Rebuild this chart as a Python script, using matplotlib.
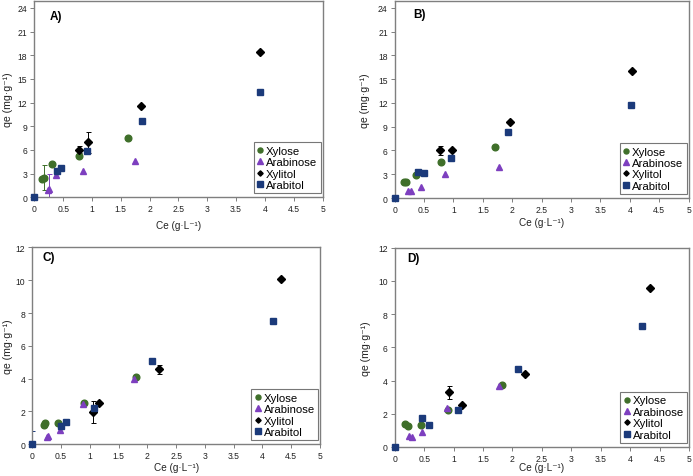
import matplotlib
matplotlib.use("Agg")
import matplotlib.pyplot as plt
import numpy as np

plt.rcParams["font.family"] = ["Liberation Sans", "DejaVu Sans"]

# ---- data (Ce in g/L, qe in mg/g) ----
A_xylose_x = [0.13, 0.17, 0.30, 0.77, 1.63]
A_xylose_y = [2.32, 2.50, 4.27, 5.20, 7.50]
A_xylose_err = [0, 1.6, 0, 0, 0]
A_arabinose_x = [0.23, 0.26, 0.38, 0.84, 1.74]
A_arabinose_y = [0.97, 1.06, 2.83, 3.30, 4.60]
A_arabinose_err = [0, 1.9, 0, 0, 0]
A_xylitol_x = [0.78, 0.94, 1.85, 3.92]
A_xylitol_y = [6.00, 6.97, 11.58, 18.38]
A_xylitol_err = [0.45, 1.3, 0, 0]
A_arabitol_x = [0, 0.40, 0.47, 0.91, 1.86, 3.92]
A_arabitol_y = [0, 3.30, 3.76, 5.83, 9.67, 13.40]
A_arabitol_err = [0, 0, 0, 0, 0, 0]

B_xylose_x = [0.15, 0.19, 0.37, 0.79, 1.70]
B_xylose_y = [2.02, 2.06, 2.90, 4.55, 6.48]
B_xylose_err = [0, 0, 0, 0, 0]
B_arabinose_x = [0.23, 0.27, 0.45, 0.86, 1.78]
B_arabinose_y = [0.84, 0.93, 1.43, 2.99, 3.96]
B_arabinose_err = [0, 0, 0, 0, 0]
B_xylitol_x = [0.77, 0.98, 1.96, 4.04]
B_xylitol_y = [6.02, 6.02, 9.60, 16.04]
B_xylitol_err = [0.55, 0, 0, 0]
B_arabitol_x = [0, 0.39, 0.50, 0.95, 1.93, 4.02]
B_arabitol_y = [0, 3.24, 3.20, 5.00, 8.30, 11.70]
B_arabitol_err = [0, 0, 0, 0, 0, 0]

C_xylose_x = [0.20, 0.22, 0.44, 0.89, 1.80]
C_xylose_y = [1.16, 1.32, 1.32, 2.50, 4.10]
C_xylose_err = [0, 0, 0, 0, 0]
C_arabinose_x = [0.25, 0.28, 0.48, 0.88, 1.77]
C_arabinose_y = [0.45, 0.53, 0.87, 2.48, 3.99]
C_arabinose_err = [0, 0, 0, 0, 0]
C_xylitol_x = [1.06, 1.16, 2.20, 4.32]
C_xylitol_y = [1.97, 2.52, 4.56, 10.09]
C_xylitol_err = [0.65, 0, 0.25, 0]
C_arabitol_x = [0, 0.50, 0.58, 1.08, 2.08, 4.19]
C_arabitol_y = [0, 1.12, 1.36, 2.24, 5.10, 7.50]
C_arabitol_err = [0.8, 0, 0, 0, 0, 0]

D_xylose_x = [0.18, 0.23, 0.45, 0.91, 1.82]
D_xylose_y = [1.36, 1.28, 1.30, 2.23, 3.75]
D_xylose_err = [0, 0, 0, 0, 0]
D_arabinose_x = [0.25, 0.29, 0.47, 0.88, 1.77]
D_arabinose_y = [0.66, 0.60, 0.88, 2.33, 3.69]
D_arabinose_err = [0, 0, 0, 0, 0]
D_xylitol_x = [0.92, 1.15, 2.21, 4.34]
D_xylitol_y = [3.29, 2.55, 4.37, 9.59]
D_xylitol_err = [0.4, 0, 0, 0]
D_arabitol_x = [0, 0.46, 0.58, 1.08, 2.10, 4.21]
D_arabitol_y = [0, 1.77, 1.34, 2.23, 4.68, 7.26]
D_arabitol_err = [0, 0, 0, 0, 0, 0]

series_names = ["Xylose", "Arabinose", "Xylitol", "Arabitol"]
colors = ["#3f6f2a", "#7d3fbf", "#000000", "#1b3a7a"]
markers = ["o", "^", "D", "s"]
msizes = [4.8, 5.0, 3.6, 5.0]

panels = [
    ("A)", [(A_xylose_x, A_xylose_y, A_xylose_err),
            (A_arabinose_x, A_arabinose_y, A_arabinose_err),
            (A_xylitol_x, A_xylitol_y, A_xylitol_err),
            (A_arabitol_x, A_arabitol_y, A_arabitol_err)]),
    ("B)", [(B_xylose_x, B_xylose_y, B_xylose_err),
            (B_arabinose_x, B_arabinose_y, B_arabinose_err),
            (B_xylitol_x, B_xylitol_y, B_xylitol_err),
            (B_arabitol_x, B_arabitol_y, B_arabitol_err)]),
    ("C)", [(C_xylose_x, C_xylose_y, C_xylose_err),
            (C_arabinose_x, C_arabinose_y, C_arabinose_err),
            (C_xylitol_x, C_xylitol_y, C_xylitol_err),
            (C_arabitol_x, C_arabitol_y, C_arabitol_err)]),
    ("D)", [(D_xylose_x, D_xylose_y, D_xylose_err),
            (D_arabinose_x, D_arabinose_y, D_arabinose_err),
            (D_xylitol_x, D_xylitol_y, D_xylitol_err),
            (D_arabitol_x, D_arabitol_y, D_arabitol_err)]),
]

rects = [
    (0.0495, 0.5843, 0.4159, 0.4121),
    (0.5696, 0.5828, 0.4240, 0.4136),
    (0.0466, 0.0665, 0.4152, 0.4126),
    (0.5696, 0.0608, 0.4246, 0.4178),
]
ylims = [24.9, 24.9, 12, 12]
ysteps = [3, 3, 2, 2]
label_pos = [(0.055, 0.92), (0.063, 0.933), (0.037, 0.95), (0.041, 0.95)]
# label anchors: right edge of the y label, top edge of the x label
ylab_x = [-0.074, -0.084, -0.067, -0.080]
xlab_y = [-0.115, -0.096, -0.090, -0.075]

fig = plt.figure(figsize=(6.93, 4.77), dpi=100)
frame_col = "#7f7f7f"
xt = np.arange(0, 5.01, 0.5)
xt_labels = ["0", "0.5", "1", "1.5", "2", "2.5", "3", "3.5", "4", "4.5", "5"]

for i, ((tag, data), rect) in enumerate(zip(panels, rects)):
    ax = fig.add_axes(rect)
    for (x, y, e), name, c, m, ms in zip(data, series_names, colors, markers, msizes):
        x = np.asarray(x, float)
        y = np.asarray(y, float)
        e = np.asarray(e, float)
        has = e > 0
        if has.any():
            ax.errorbar(x[has], y[has], yerr=e[has], fmt="none", ecolor=c,
                        elinewidth=0.7, capsize=1.8, capthick=0.7, zorder=2)
        ax.plot(x, y, ls="none", marker=m, ms=ms, color=c, mec=c,
                label=name, zorder=3, clip_on=False)
    ax.set_xlim(0, 5)
    ax.set_ylim(0, ylims[i])
    ax.set_xticks(xt)
    ax.set_xticklabels(xt_labels)
    ax.set_yticks(np.arange(0, int(ylims[i]) + 1, ysteps[i]))
    ax.tick_params(direction="out", length=3, width=0.7, color=frame_col,
                   labelsize=6.2, labelcolor="#222222", pad=2)
    for sp in ax.spines.values():
        sp.set_color(frame_col)
        sp.set_linewidth(1.0)
    ax.set_xlabel("Ce (g·L⁻¹)", fontsize=7.2, color="#222222")
    ax.set_ylabel("qe (mg·g⁻¹)", fontsize=7.6, color="#222222")
    ax.xaxis.set_label_coords(0.5, xlab_y[i])
    ax.yaxis.set_label_coords(ylab_x[i], 0.5)
    ax.text(label_pos[i][0], label_pos[i][1], tag, transform=ax.transAxes,
            fontsize=8.5, fontweight="bold", ha="left", va="center")
    leg = ax.legend(loc="lower right", bbox_to_anchor=(0.994, 0.02),
                    fontsize=8.2, frameon=True, fancybox=False,
                    handlelength=0.6, handletextpad=0.2, borderpad=0.3,
                    labelspacing=0.12, borderaxespad=0.0, markerscale=0.75)
    leg.get_frame().set_edgecolor("#555555")
    leg.get_frame().set_linewidth(0.8)

fig.savefig("out.png", dpi=100)
